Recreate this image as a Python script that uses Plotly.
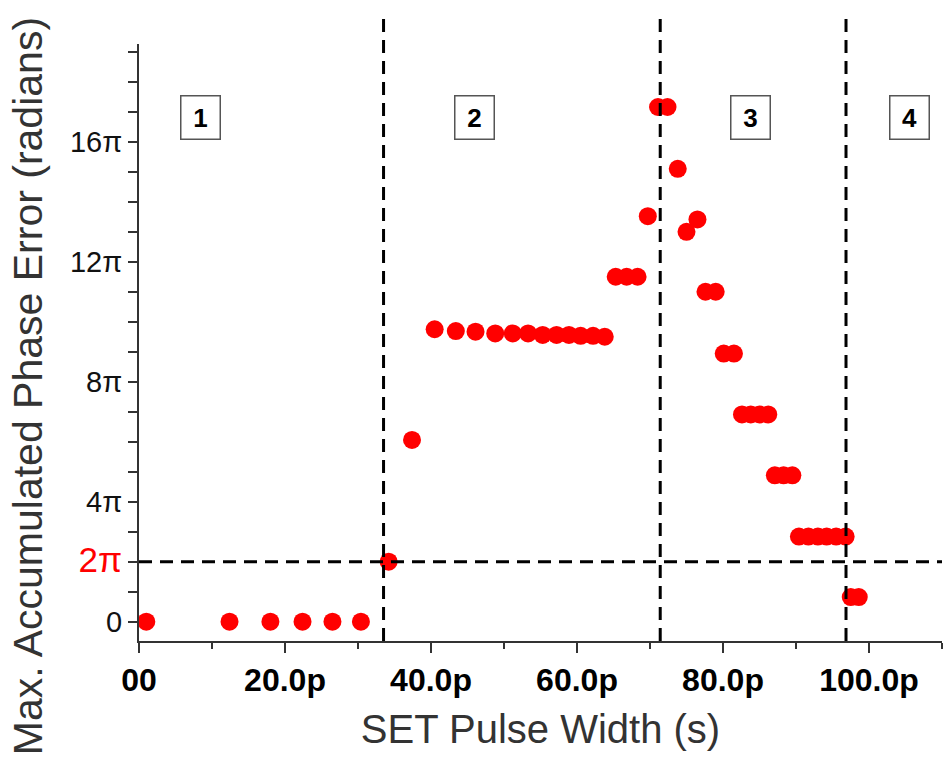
import plotly.graph_objects as go

# SET pulse width (ps) and max accumulated phase error (in units of pi)
pulse_width_ps = [1.0, 12.4, 18.0, 22.4, 26.5, 30.4, 34.2, 37.4,
                  40.5, 43.4, 46.1, 48.8, 51.2, 53.3, 55.3, 57.2, 58.9, 60.5, 62.2, 63.8,
                  65.3, 66.8, 68.3, 69.7, 71.1, 72.4, 73.8, 75.0, 76.5, 77.6, 79.0,
                  80.1, 81.5, 82.6, 83.8, 85.0, 86.2, 87.1, 88.3, 89.5,
                  90.4, 91.7, 93.0, 94.2, 95.5, 96.8, 97.5, 98.6]
phase_error_pi = [0, 0, 0, 0, 0, 0, 2.0, 6.06,
                  9.75, 9.69, 9.67, 9.61, 9.61, 9.61, 9.56, 9.56, 9.56, 9.53, 9.53, 9.50,
                  11.5, 11.5, 11.5, 13.52, 17.16, 17.16, 15.1, 13.0, 13.41, 11.0, 11.0,
                  8.94, 8.94, 6.91, 6.91, 6.91, 6.91, 4.88, 4.88, 4.88,
                  2.84, 2.84, 2.84, 2.84, 2.84, 2.84, 0.82, 0.82]

region_bounds_ps = [33.5, 71.4, 96.85]
threshold_pi = 2
region_labels = ["1", "2", "3", "4"]
region_label_x = [8.4, 45.9, 83.7, 105.5]
region_label_y = 16.8

x_tickvals = [0, 20, 40, 60, 80, 100]
x_ticktext = ["00", "20.0p", "40.0p", "60.0p", "80.0p", "100.0p"]
y_labeled = {0: "0", 4: "4π", 8: "8π", 12: "12π", 16: "16π"}
y_tickvals = list(range(0, 20))
y_ticktext = []
for v in y_tickvals:
    if v == 2:
        y_ticktext.append("<span style='color:#ff0000;font-size:35px'>2π</span>")
    else:
        y_ticktext.append(y_labeled.get(v, ""))

FONT = "Liberation Sans, Arial, sans-serif"

fig = go.Figure()
fig.add_trace(go.Scatter(
    x=pulse_width_ps, y=phase_error_pi, mode="markers",
    marker=dict(color="#ff0000", size=18, line=dict(width=0)),
    showlegend=False, cliponaxis=False))

for xb in region_bounds_ps:
    fig.add_shape(type="line", xref="x", yref="paper", x0=xb, x1=xb, y0=0, y1=1.045,
                  line=dict(color="black", width=3, dash="13px,8px"))
fig.add_shape(type="line", xref="paper", yref="y", x0=0, x1=1, y0=threshold_pi, y1=threshold_pi,
              line=dict(color="black", width=3, dash="13px,8px"))

for lab, lx in zip(region_labels, region_label_x):
    fig.add_annotation(x=lx, y=region_label_y, xref="x", yref="y", text="<b>%s</b>" % lab,
                       showarrow=False, font=dict(family=FONT, size=26, color="black"),
                       bordercolor="#555555", borderwidth=1.5, borderpad=0,
                       bgcolor="white", width=38, height=42)

# y-axis title (placed as in the reference, slightly below the axis centre)
fig.add_annotation(text="Max. Accumulated Phase Error (radians)", textangle=-90,
                   xref="paper", yref="paper", x=-0.138, y=0.427, showarrow=False,
                   xanchor="center", yanchor="middle",
                   font=dict(family=FONT, size=41, color="#333333"))

fig.update_layout(
    width=948, height=759,
    margin=dict(l=139, r=6, t=44, b=118),
    paper_bgcolor="white", plot_bgcolor="white",
    font=dict(family=FONT),
    xaxis=dict(range=[0, 110], showgrid=False, zeroline=False,
               showline=True, linecolor="#333333", linewidth=2,
               ticks="outside", ticklen=10, tickwidth=2, tickcolor="#333333",
               tickvals=x_tickvals, ticktext=x_ticktext,
               tickfont=dict(family=FONT, size=32, color="black", weight="bold"),
               minor=dict(dtick=10, tick0=0, ticks="outside", ticklen=6, tickwidth=2, tickcolor="#333333"),
               title=dict(text="SET Pulse Width (s)", font=dict(family=FONT, size=40, color="#333333"),
                          standoff=18)),
    yaxis=dict(range=[-0.643, 19.26], showgrid=False, zeroline=False,
               showline=True, linecolor="#333333", linewidth=2,
               ticks="outside", ticklen=9, tickwidth=2, tickcolor="#333333",
               tickvals=y_tickvals, ticktext=y_ticktext,
               tickfont=dict(family=FONT, size=29, color="#111111")),
)

fig.write_html("out.html")
